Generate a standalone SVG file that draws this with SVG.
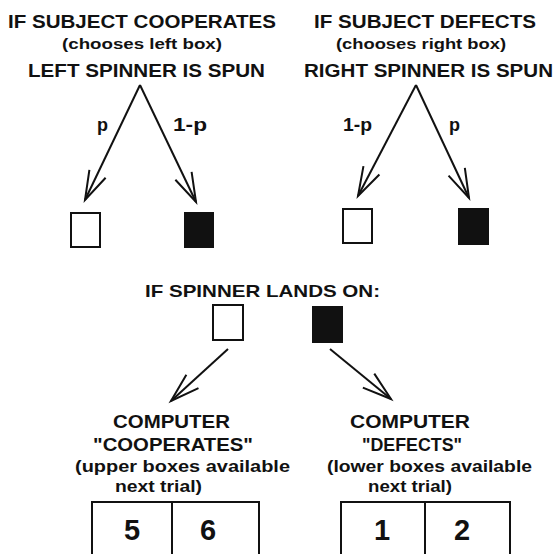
<svg xmlns="http://www.w3.org/2000/svg" width="556" height="554" viewBox="0 0 556 554">
<style>
text{font-family:"Liberation Sans",Arial,sans-serif;font-weight:bold;fill:#111}
.h{font-size:18px}
.s{font-size:15px}
.n{font-size:29px}
.ln{stroke:#111;stroke-width:2;fill:none}
.wb{fill:#fff;stroke:#111;stroke-width:2}
.bb{fill:#111;stroke:#111;stroke-width:2}
</style>
<defs>
<marker id="arr" markerUnits="userSpaceOnUse" markerWidth="40" markerHeight="30" refX="0" refY="0" viewBox="-32 -15 40 30" orient="auto">
<path d="M-29,-9 L0,0 L-29,9" fill="none" stroke="#111" stroke-width="2"/>
</marker>
</defs>
<rect width="556" height="554" fill="#fff"/>
<g id="left-header">
<text class="h" x="8" y="28" textLength="268" lengthAdjust="spacingAndGlyphs">IF SUBJECT COOPERATES</text>
<text class="s" x="62" y="49" textLength="160" lengthAdjust="spacingAndGlyphs">(chooses left box)</text>
<text class="h" x="28" y="77" textLength="237" lengthAdjust="spacingAndGlyphs">LEFT SPINNER IS SPUN</text>
</g>
<g id="right-header">
<text class="h" x="314" y="28" textLength="222" lengthAdjust="spacingAndGlyphs">IF SUBJECT DEFECTS</text>
<text class="s" x="336" y="49" textLength="170" lengthAdjust="spacingAndGlyphs">(chooses right box)</text>
<text class="h" x="304" y="77" textLength="249" lengthAdjust="spacingAndGlyphs">RIGHT SPINNER IS SPUN</text>
</g>
<g id="connectors">
<line class="ln" x1="140" y1="85" x2="85" y2="200" marker-end="url(#arr)"/>
<line class="ln" x1="140" y1="85" x2="196" y2="202" marker-end="url(#arr)"/>
<line class="ln" x1="416" y1="85" x2="358" y2="196" marker-end="url(#arr)"/>
<line class="ln" x1="416" y1="85" x2="469" y2="198" marker-end="url(#arr)"/>
<line class="ln" x1="228" y1="349" x2="171" y2="401" marker-end="url(#arr)"/>
<line class="ln" x1="330" y1="349" x2="391" y2="399" marker-end="url(#arr)"/>
</g>
<g id="labels">
<text class="h" x="97" y="131">p</text>
<text class="h" x="173" y="131" textLength="34" lengthAdjust="spacingAndGlyphs">1-p</text>
<text class="h" x="343" y="131" textLength="29" lengthAdjust="spacingAndGlyphs">1-p</text>
<text class="h" x="449" y="131">p</text>
</g>
<g id="left-white-box"><rect class="wb" x="71" y="213" width="29" height="34"/></g>
<g id="left-black-box"><rect class="bb" x="185" y="213" width="28" height="34"/></g>
<g id="right-white-box"><rect class="wb" x="343" y="209" width="29" height="34"/></g>
<g id="right-black-box"><rect class="bb" x="459" y="209" width="29" height="35"/></g>
<g id="landing">
<text class="h" x="145" y="297" textLength="235" lengthAdjust="spacingAndGlyphs" style="font-size:17px">IF SPINNER LANDS ON:</text>
<rect class="wb" x="213" y="305" width="30" height="35"/>
<rect class="bb" x="313" y="307" width="29" height="35"/>
</g>
<g id="computer-cooperates">
<text class="h" x="113" y="428" textLength="117" lengthAdjust="spacingAndGlyphs">COMPUTER</text>
<text class="h" x="93" y="451" textLength="160" lengthAdjust="spacingAndGlyphs">"COOPERATES"</text>
<text class="h" x="75" y="472" textLength="215" lengthAdjust="spacingAndGlyphs" style="font-size:17px">(upper boxes available</text>
<text class="h" x="115" y="492" textLength="87" lengthAdjust="spacingAndGlyphs" style="font-size:17px">next trial)</text>
<rect class="wb" x="92" y="502" width="167" height="70"/>
<line class="ln" x1="172" y1="502" x2="172" y2="572"/>
<text class="n" x="132" y="540" text-anchor="middle">5</text>
<text class="n" x="208" y="540" text-anchor="middle">6</text>
</g>
<g id="computer-defects">
<text class="h" x="350" y="428" textLength="120" lengthAdjust="spacingAndGlyphs">COMPUTER</text>
<text class="h" x="362" y="451" textLength="100" lengthAdjust="spacingAndGlyphs">"DEFECTS"</text>
<text class="h" x="327" y="472" textLength="205" lengthAdjust="spacingAndGlyphs" style="font-size:17px">(lower boxes available</text>
<text class="h" x="368" y="492" textLength="84" lengthAdjust="spacingAndGlyphs" style="font-size:17px">next trial)</text>
<rect class="wb" x="341" y="502" width="169" height="70"/>
<line class="ln" x1="425" y1="502" x2="425" y2="572"/>
<text class="n" x="382" y="540" text-anchor="middle">1</text>
<text class="n" x="462" y="540" text-anchor="middle">2</text>
</g>
</svg>
